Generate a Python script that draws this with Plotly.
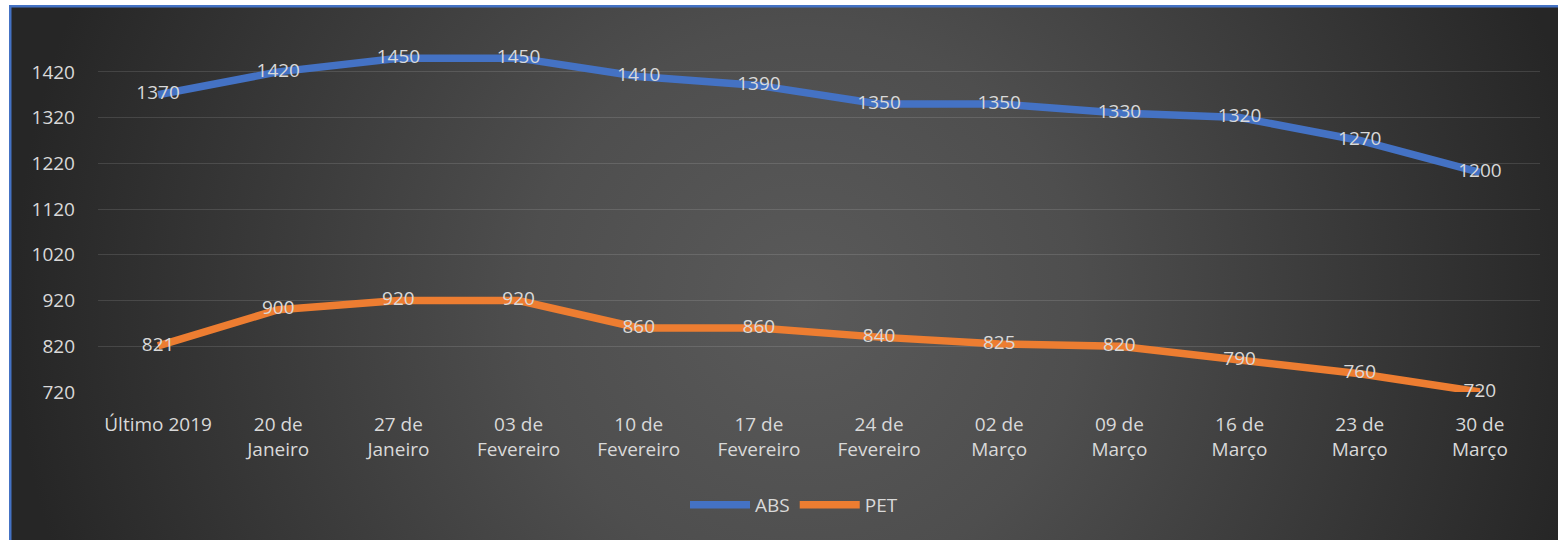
import base64
import plotly.graph_objects as go

categories = ["Último 2019", "20 de<br>Janeiro", "27 de<br>Janeiro", "03 de<br>Fevereiro",
              "10 de<br>Fevereiro", "17 de<br>Fevereiro", "24 de<br>Fevereiro", "02 de<br>Março",
              "09 de<br>Março", "16 de<br>Março", "23 de<br>Março", "30 de<br>Março"]
abs_values = [1370, 1420, 1450, 1450, 1410, 1390, 1350, 1350, 1330, 1320, 1270, 1200]
pet_values = [821, 900, 920, 920, 860, 860, 840, 825, 820, 790, 760, 720]
y_ticks = [720, 820, 920, 1020, 1120, 1220, 1320, 1420]

W, H = 1558, 540
L, R, T, B = 98, 18, 49, 148
pw, ph = W - L - R, H - T - B

# background: radial dark gradient with blue top/left border
bw, bh = W - 9, H - 5
svg = f'''<svg xmlns="http://www.w3.org/2000/svg" width="{bw}" height="{bh}" viewBox="0 0 {bw} {bh}" preserveAspectRatio="none">
<defs><radialGradient id="g" gradientUnits="userSpaceOnUse" cx="{bw/2 + 20}" cy="300" r="790">
<stop offset="0" stop-color="#5a5a5a"/><stop offset="0.35" stop-color="#4e4e4e"/>
<stop offset="1" stop-color="#262626"/></radialGradient></defs>
<rect x="0" y="0" width="{bw}" height="{bh}" fill="url(#g)"/>
<rect x="0" y="0" width="{bw}" height="2.5" fill="#4472C4"/>
<rect x="0" y="0" width="2.5" height="{bh}" fill="#4472C4"/>
</svg>'''
src = "data:image/svg+xml;base64," + base64.b64encode(svg.encode()).decode()

font_fam = "Open Sans"
txt_col = "#d9d9d9"

fig = go.Figure()
fig.add_trace(go.Scatter(x=categories, y=abs_values, name="ABS", mode="lines+text",
                         line=dict(color="#4472C4", width=7.5),
                         text=[str(v) for v in abs_values], textposition="middle center",
                         textfont=dict(color=txt_col, size=19, family=font_fam),
                         hoverinfo="skip", cliponaxis=False))
fig.add_trace(go.Scatter(x=categories, y=pet_values, name="PET", mode="lines+text",
                         line=dict(color="#ED7D31", width=7.5),
                         text=[str(v) for v in pet_values], textposition="middle center",
                         textfont=dict(color=txt_col, size=19, family=font_fam),
                         hoverinfo="skip", cliponaxis=False))

fig.update_layout(
    width=W, height=H,
    margin=dict(l=L, r=R, t=T, b=B, autoexpand=False),
    paper_bgcolor="white",
    plot_bgcolor="rgba(0,0,0,0)",
    font=dict(family=font_fam, color=txt_col, size=19),
    images=[dict(source=src, xref="paper", yref="paper",
                 x=(9 - L) / pw, y=(H - B - 5) / ph,
                 sizex=bw / pw, sizey=bh / ph,
                 xanchor="left", yanchor="top", sizing="stretch", layer="below")],
    showlegend=True,
    legend=dict(orientation="h", x=(794 - L) / pw, xanchor="center",
                y=(H - B - 505) / ph, yanchor="middle",
                font=dict(color=txt_col, size=19, family=font_fam),
                bgcolor="rgba(0,0,0,0)", itemwidth=60),
    xaxis=dict(range=[-0.5, len(categories) - 0.5], showgrid=False, zeroline=False,
               showline=False, ticks="",
               tickfont=dict(color=txt_col, size=19, family=font_fam),
               ticklabelstandoff=19, fixedrange=True, automargin=False),
    yaxis=dict(range=[720, 1470], tickvals=y_ticks, showgrid=True,
               gridcolor="rgba(255,255,255,0.12)", gridwidth=1, zeroline=False,
               showline=False, ticks="",
               tickfont=dict(color=txt_col, size=19, family=font_fam),
               ticklabelstandoff=22, fixedrange=True, automargin=False),
)

fig.write_html("out.html", config={"displayModeBar": False, "staticPlot": True},
               post_script="document.body.style.margin='0';document.body.style.overflow='hidden';")
